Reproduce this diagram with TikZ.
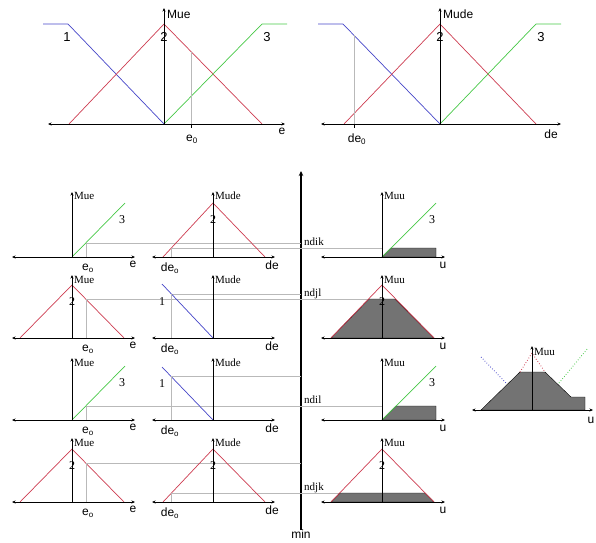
\documentclass[tikz,border=0pt]{standalone}
\usepackage{fontspec}
\setmainfont{Liberation Serif}
\setsansfont{Liberation Sans}
\usetikzlibrary{arrows.meta}
\definecolor{mfblue}{RGB}{70,70,200}
\definecolor{mfred}{RGB}{205,60,80}
\definecolor{mfgreen}{RGB}{70,200,70}
\definecolor{cutgray}{RGB}{185,185,185}
\definecolor{shade}{RGB}{115,115,115}
\begin{document}
\begin{tikzpicture}[
  x=1pt,y=-1pt,
  axis/.style={line width=0.9pt,{Stealth[length=3.5pt,width=3pt]}-{Stealth[length=3.5pt,width=3pt]}},
  yaxis/.style={line width=0.9pt,-{Stealth[length=3.5pt,width=3pt]}},
  mfa/.style={mfblue,line width=0.7pt},
  mfb/.style={mfred,line width=0.7pt},
  mfc/.style={mfgreen,line width=0.7pt},
  cut/.style={cutgray,line width=0.8pt},
  area/.style={fill=shade},
  lbl/.style={font=\sffamily\fontsize{12}{12}\selectfont,inner sep=0pt},
  num/.style={font=\sffamily\fontsize{13}{13}\selectfont,inner sep=0pt},
  tag/.style={font=\fontsize{11}{11}\selectfont,inner sep=0pt},
  dig/.style={font=\fontsize{12}{12}\selectfont,inner sep=0pt}
]
  \useasboundingbox (0,0) rectangle (596,542);

  % top left: e
  \draw[mfa] (43,24) -- (68,24) -- (164,124);
  \draw[mfb] (69,124) -- (164,24) -- (262,124);
  \draw[mfc] (164,124) -- (262,24) -- (287,24);
  \draw[cut] (191,124) -- (191,52);
  \draw[axis] (48,124) -- (285,124);
  \draw[yaxis] (164,124) -- (164,8);
  \draw[line width=0.9pt] (191,124) -- (191,128);
  \node[lbl,anchor=west] (mue) at (167,14) {Mue};
  \node[num] (e1) at (67,37) {1};
  \node[num] (e2) at (164,37) {2};
  \node[num] (e3) at (267,37) {3};
  \node[lbl] (eax) at (282,131) {e};
  \node[lbl] (ezero) at (192,139) {e\textsubscript{0}};

  % top right: de
  \draw[mfa] (318,24) -- (343,24) -- (440,124);
  \draw[mfb] (344,124) -- (440,24) -- (536,124);
  \draw[mfc] (440,124) -- (536,24) -- (561,24);
  \draw[cut] (354,124) -- (354,35);
  \draw[axis] (321,124) -- (561,124);
  \draw[yaxis] (440,124) -- (440,8);
  \draw[line width=0.9pt] (354,124) -- (354,128);
  \node[lbl,anchor=west] (mude) at (443,14) {Mude};
  \node[num] (de2) at (440,37) {2};
  \node[num] (de3) at (541,37) {3};
  \node[lbl] (deax) at (551,134) {de};
  \node[lbl] (dezero) at (357,139) {de\textsubscript{0}};

  % min axis
  \draw[line width=2pt,-{Stealth[length=5pt,width=4.5pt]}] (301,530) -- (301,171);
  \node[lbl] (min) at (301,534) {min};

  % row 1: ndik
  \draw[cut] (86,243) -- (301,243);
  \draw[cut] (171,248) -- (382,248);
  \draw[area] (382,257) -- (391,248) -- (436,248) -- (436,257) -- cycle;
  \draw[mfc] (72,257) -- (125,203);
  \draw[mfb] (163,257) -- (213,203) -- (265,257);
  \draw[mfc] (382,257) -- (436,203);
  \draw[cut] (86,257) -- (86,243);
  \draw[cut] (171,257) -- (171,248);
  \draw[axis] (12,257) -- (135,257);
  \draw[axis] (152,257) -- (275,257);
  \draw[axis] (321,257) -- (445,257);
  \draw[yaxis] (72,257) -- (72,192);
  \draw[yaxis] (213,257) -- (213,192);
  \draw[yaxis] (382,257) -- (382,192);
  \node[tag,anchor=west] (mue1) at (74,196) {Mue};
  \node[tag,anchor=west] (mude1) at (215,196) {Mude};
  \node[tag,anchor=west] (muu1) at (384,196) {Muu};
  \node[dig] (a3) at (122,220) {3};
  \node[dig] (b2) at (213,220) {2};
  \node[dig] (c3) at (432,220) {3};
  \node[tag,anchor=base west] (ndik) at (304,245) {ndik};
  \node[lbl] (eo1) at (88,268) {e\textsubscript{o}};
  \node[lbl] (e1l) at (133,264) {e};
  \node[lbl] (deo1) at (170,268) {de\textsubscript{o}};
  \node[lbl] (de1l) at (272,265) {de};
  \node[lbl] (u1) at (443,265) {u};

  % row 2: ndjl
  \draw[cut] (171,294) -- (301,294);
  \draw[cut] (86,299) -- (382,299);
  \draw[area] (331,338) -- (369,299) -- (395,299) -- (434,338) -- cycle;
  \draw[mfb] (20,338) -- (72,285) -- (124,338);
  \draw[mfa] (162,284) -- (213,338);
  \draw[mfb] (331,338) -- (382,285) -- (434,338);
  \draw[cut] (86,338) -- (86,299);
  \draw[cut] (171,338) -- (171,294);
  \draw[axis] (12,338) -- (135,338);
  \draw[axis] (152,338) -- (275,338);
  \draw[axis] (321,338) -- (445,338);
  \draw[yaxis] (72,338) -- (72,275);
  \draw[yaxis] (213,338) -- (213,275);
  \draw[yaxis] (382,338) -- (382,275);
  \node[tag,anchor=west] (mue2) at (74,280) {Mue};
  \node[tag,anchor=west] (mude2) at (215,280) {Mude};
  \node[tag,anchor=west] (muu2) at (384,280) {Muu};
  \node[dig] (a2) at (72,302) {2};
  \node[dig] (b1) at (162,302) {1};
  \node[dig] (c2) at (382,302) {2};
  \node[tag,anchor=base west] (ndjl) at (304,296) {ndjl};
  \node[lbl] (eo2) at (88,349) {e\textsubscript{o}};
  \node[lbl] (e2l) at (133,345) {e};
  \node[lbl] (deo2) at (170,349) {de\textsubscript{o}};
  \node[lbl] (de2l) at (272,346) {de};
  \node[lbl] (u2) at (443,346) {u};

  % row 3: ndil
  \draw[cut] (171,376) -- (301,376);
  \draw[cut] (86,406) -- (382,406);
  \draw[area] (382,420) -- (396,406) -- (436,406) -- (436,420) -- cycle;
  \draw[mfc] (72,420) -- (125,366);
  \draw[mfa] (162,367) -- (213,420);
  \draw[mfc] (382,420) -- (436,366);
  \draw[cut] (86,420) -- (86,406);
  \draw[cut] (171,420) -- (171,376);
  \draw[axis] (12,420) -- (135,420);
  \draw[axis] (152,420) -- (275,420);
  \draw[axis] (321,420) -- (445,420);
  \draw[yaxis] (72,420) -- (72,358);
  \draw[yaxis] (213,420) -- (213,358);
  \draw[yaxis] (382,420) -- (382,358);
  \node[tag,anchor=west] (mue3) at (74,363) {Mue};
  \node[tag,anchor=west] (mude3) at (215,363) {Mude};
  \node[tag,anchor=west] (muu3) at (384,363) {Muu};
  \node[dig] (a3b) at (122,383) {3};
  \node[dig] (b1b) at (162,384) {1};
  \node[dig] (c3b) at (432,383) {3};
  \node[tag,anchor=base west] (ndil) at (304,403) {ndil};
  \node[lbl] (eo3) at (88,431) {e\textsubscript{o}};
  \node[lbl] (e3l) at (133,427) {e};
  \node[lbl] (deo3) at (170,431) {de\textsubscript{o}};
  \node[lbl] (de3l) at (272,428) {de};
  \node[lbl] (u3) at (443,428) {u};

  % row 4: ndjk
  \draw[cut] (86,463) -- (301,463);
  \draw[cut] (171,493) -- (382,493);
  \draw[area] (331,502) -- (340,493) -- (425,493) -- (434,502) -- cycle;
  \draw[mfb] (20,502) -- (72,449) -- (124,502);
  \draw[mfb] (163,502) -- (213,449) -- (265,502);
  \draw[mfb] (331,502) -- (382,449) -- (434,502);
  \draw[cut] (86,502) -- (86,463);
  \draw[cut] (171,502) -- (171,493);
  \draw[axis] (12,502) -- (135,502);
  \draw[axis] (152,502) -- (275,502);
  \draw[axis] (321,502) -- (445,502);
  \draw[yaxis] (72,502) -- (72,438);
  \draw[yaxis] (213,502) -- (213,438);
  \draw[yaxis] (382,502) -- (382,438);
  \node[tag,anchor=west] (mue4) at (74,443) {Mue};
  \node[tag,anchor=west] (mude4) at (215,443) {Mude};
  \node[tag,anchor=west] (muu4) at (384,443) {Muu};
  \node[dig] (a2b) at (72,466) {2};
  \node[dig] (b2b) at (213,466) {2};
  \node[dig] (c2b) at (382,466) {2};
  \node[tag,anchor=base west] (ndjk) at (304,490) {ndjk};
  \node[lbl] (eo4) at (88,513) {e\textsubscript{o}};
  \node[lbl] (e4l) at (133,509) {e};
  \node[lbl] (deo4) at (170,513) {de\textsubscript{o}};
  \node[lbl] (de4l) at (272,510) {de};
  \node[lbl] (u4) at (443,510) {u};

  % aggregated output
  \draw[area] (481,410) -- (520,372) -- (545,372) -- (571,397) -- (585,397) -- (585,410) -- cycle;
  \draw[mfb,dotted,line width=0.9pt] (520,372) -- (532,353) -- (545,372);
  \draw[mfa,dotted,line width=0.9pt] (481,357) -- (506,383);
  \draw[mfc,dotted,line width=0.9pt] (559,383) -- (588,348);
  \draw[axis] (472,410) -- (593,410);
  \draw[yaxis] (532,410) -- (532,346);
  \node[tag,anchor=west] (muuout) at (534,352) {Muu};
  \node[lbl] (uout) at (591,420) {u};
\end{tikzpicture}
\end{document}
